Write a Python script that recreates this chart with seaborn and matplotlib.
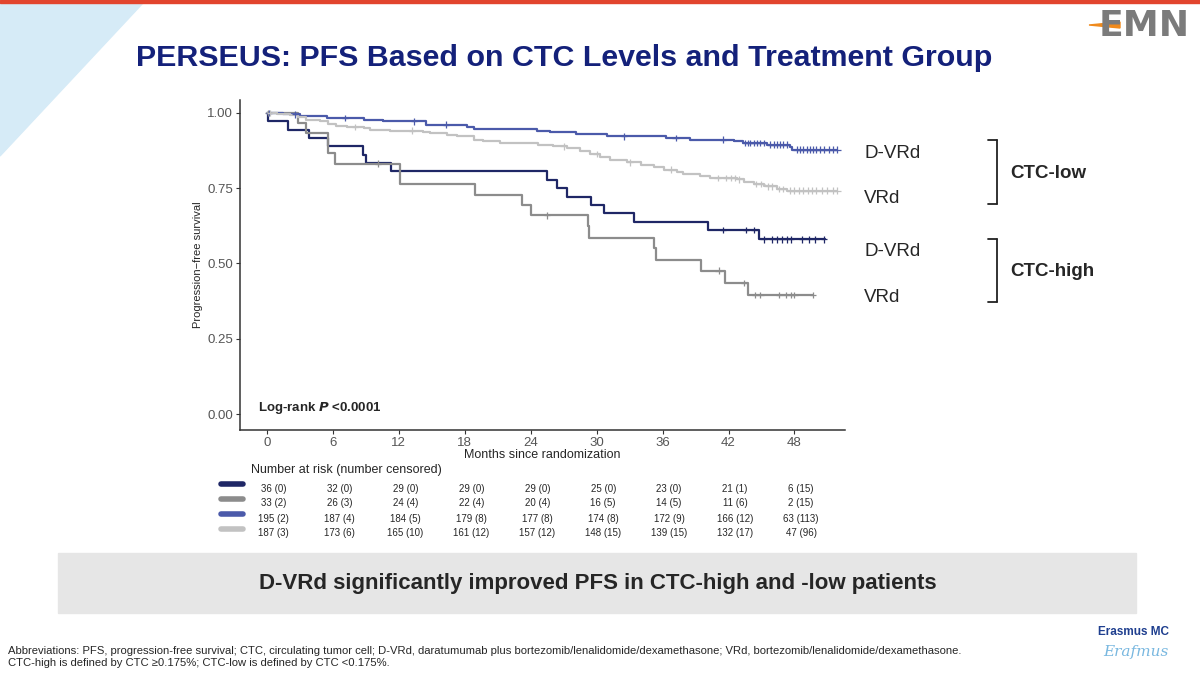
import numpy as np
import pandas as pd
import seaborn as sns
import matplotlib.pyplot as plt
from matplotlib.lines import Line2D
from matplotlib.patches import Polygon, Rectangle

# curves: step times (months) and survival after each step
groups = ['D-VRd CTC-high', 'VRd CTC-high', 'D-VRd CTC-low', 'VRd CTC-low']
colors = ['#1f2766', '#8c8c8c', '#4b5aaa', '#c2c2c2']

navy_t = [0.1, 1.9, 3.8, 5.6, 8.7, 9.0, 11.3, 25.5, 26.4, 27.3, 29.5, 30.7, 33.4, 40.1, 44.8]
navy_s = [0.972, 0.944, 0.917, 0.889, 0.861, 0.833, 0.806, 0.778, 0.750, 0.722, 0.694, 0.667, 0.639, 0.611, 0.580]
navy_end = 50.8
navy_cens = [41.5, 43.6, 44.3, 45.2, 46.0, 46.4, 46.9, 47.3, 47.7, 48.7, 49.3, 49.9, 50.7]

gray_t = [2.8, 3.6, 5.6, 6.2, 12.1, 18.9, 23.2, 24.0, 29.2, 29.3, 35.2, 35.4, 39.5, 41.7, 43.8]
gray_s = [0.968, 0.933, 0.867, 0.832, 0.764, 0.729, 0.695, 0.660, 0.623, 0.585, 0.550, 0.513, 0.476, 0.435, 0.396]
gray_end = 49.7
gray_cens = [0.1, 10.1, 25.5, 41.1, 43.4, 44.4, 44.9, 46.6, 47.2, 47.7, 48.0, 49.7]

blue_t = [1.5, 3.0, 5.5, 8.8, 10.6, 14.5, 18.2, 18.8, 24.6, 25.8, 28.1, 30.9, 36.3, 38.5, 42.5, 43.3, 45.5, 47.6, 47.8]
blue_s = [0.995, 0.990, 0.983, 0.978, 0.972, 0.961, 0.953, 0.947, 0.939, 0.936, 0.930, 0.922, 0.917, 0.911, 0.906, 0.900, 0.895, 0.887, 0.878]
blue_end = 51.9
blue_cens = [0.2, 2.6, 7.1, 13.4, 16.3, 32.5, 37.2, 41.5, 43.5, 43.8, 44.0, 44.3, 44.6, 44.9, 45.2,
             45.8, 46.1, 46.4, 46.7, 47.0, 47.3, 48.2, 48.5, 48.8, 49.1, 49.4, 49.7, 50.0, 50.3,
             50.7, 51.1, 51.5, 51.9]

lgray_t = [0.9, 2.1, 2.85, 3.6, 4.8, 5.6, 6.3, 7.25, 8.8, 9.4, 11.2, 14.2, 14.8, 16.4, 17.3, 18.8, 19.7,
           21.2, 24.7, 26.0, 27.3, 28.5, 29.4, 30.3, 31.2, 32.8, 34.0, 35.2, 36.1, 37.3, 37.9, 39.4,
           40.3, 42.8, 43.4, 44.3, 45.2, 46.4, 47.3]
lgray_s = [0.997, 0.992, 0.986, 0.978, 0.972, 0.963, 0.958, 0.953, 0.950, 0.945, 0.941, 0.937, 0.934,
           0.928, 0.922, 0.911, 0.906, 0.900, 0.895, 0.889, 0.884, 0.873, 0.864, 0.853, 0.845, 0.836,
           0.828, 0.820, 0.812, 0.804, 0.797, 0.790, 0.784, 0.779, 0.771, 0.764, 0.756, 0.747, 0.742]
lgray_end = 51.9
lgray_cens = [0.3, 8.0, 13.2, 27.0, 30.0, 33.0, 36.8, 41.0, 41.8, 42.2, 42.6, 43.0, 44.5, 45.0, 45.6,
              46.0, 46.6, 47.0, 47.6, 48.0, 48.4, 48.8, 49.2, 49.6, 50.0, 50.5, 51.0, 51.5, 51.9]

# number at risk table
risk_months = [0, 6, 12, 18, 24, 30, 36, 42, 48]
risk_navy = ['36 (0)', '32 (0)', '29 (0)', '29 (0)', '29 (0)', '25 (0)', '23 (0)', '21 (1)', '6 (15)']
risk_gray = ['33 (2)', '26 (3)', '24 (4)', '22 (4)', '20 (4)', '16 (5)', '14 (5)', '11 (6)', '2 (15)']
risk_blue = ['195 (2)', '187 (4)', '184 (5)', '179 (8)', '177 (8)', '174 (8)', '172 (9)', '166 (12)', '63 (113)']
risk_lgray = ['187 (3)', '173 (6)', '165 (10)', '161 (12)', '157 (12)', '148 (15)', '139 (15)', '132 (17)', '47 (96)']

curves = [(navy_t, navy_s, navy_end, navy_cens),
          (gray_t, gray_s, gray_end, gray_cens),
          (blue_t, blue_s, blue_end, blue_cens),
          (lgray_t, lgray_s, lgray_end, lgray_cens)]
risks = [risk_navy, risk_gray, risk_blue, risk_lgray]

rows, cens_rows = [], []
for g, (t, s, end, cens) in zip(groups, curves):
    tt = [0.0] + t + [end]
    ss = [1.0] + s + [s[-1]]
    for a, b in zip(tt, ss):
        rows.append({'month': a, 'surv': b, 'group': g})
    for c in cens:
        i = np.searchsorted(tt, c, side='right') - 1
        cens_rows.append({'month': c, 'surv': ss[i], 'group': g})
df = pd.DataFrame(rows)
df_cens = pd.DataFrame(cens_rows)
pal = dict(zip(groups, colors))

sns.set_style('ticks')
plt.rcParams['font.family'] = ['Liberation Sans', 'DejaVu Sans']

W, H = 1200, 678
fig = plt.figure(figsize=(12, 6.78), dpi=100)


def px(x, y):
    return x / W, 1 - y / H


# slide decorations
fig.patches.append(Polygon([px(0, 3), px(143, 3), px(0, 156)], closed=True,
                           transform=fig.transFigure, color='#d6ebf7', zorder=0))
fig.patches.append(Rectangle(px(0, 3), 1, 3 / H, transform=fig.transFigure,
                             color='#e2452e', zorder=1))
fig.text(*px(1144, 26), 'EMN', fontsize=26, color='#7b7b7b', ha='center', va='center',
         fontweight='bold', family='DejaVu Sans')
fig.patches.append(Polygon([px(1089, 25), px(1120, 22), px(1120, 28)], closed=True,
                           transform=fig.transFigure, color='#f08a1c', zorder=3))

fig.text(*px(564, 58), 'PERSEUS: PFS Based on CTC Levels and Treatment Group',
         fontweight='bold', fontsize=21.9, color='#14217a', ha='center', va='center')

# main KM axes
l, b = px(240, 430)
ax = fig.add_axes([l, b, 605 / W, 330 / H])
sns.lineplot(data=df, x='month', y='surv', hue='group', palette=pal, estimator=None,
             sort=False, drawstyle='steps-post', linewidth=1.6, legend=False, ax=ax)
sns.scatterplot(data=df_cens, x='month', y='surv', hue='group', palette=pal, marker='+',
                s=22, linewidth=0.9, legend=False, ax=ax, zorder=3)
ax.set_xlim(-2.45, 52.6)
ax.set_ylim(-0.053, 1.043)
ax.set_xticks(risk_months)
ax.set_yticks([0, 0.25, 0.5, 0.75, 1.0])
ax.set_yticklabels(['0.00', '0.25', '0.50', '0.75', '1.00'])
ax.tick_params(labelsize=9.5, colors='#333333', labelcolor='#555555', length=3, width=0.8, pad=2)
for sp in ['top', 'right']:
    ax.spines[sp].set_visible(False)
for sp in ['left', 'bottom']:
    ax.spines[sp].set_color('#333333')
    ax.spines[sp].set_linewidth(1.1)
ax.set_xlabel('Months since randomization', fontsize=9, labelpad=0)
ax.set_ylabel('Progression\u2212free survival', fontsize=8, labelpad=3)
ax.text(-0.85, 0.02, 'Log-rank $\\bfit{P}$ <0.0001', fontsize=9.5, fontweight='bold',
        ha='left', va='center')

# right-hand labels and brackets
for y, lab in [(158, 'D-VRd'), (203, 'VRd'), (256, 'D-VRd'), (302, 'VRd')]:
    fig.text(*px(864, y), lab, fontsize=13.5, va='baseline', ha='left')
for y0, y1, lab in [(140, 204, 'CTC-low'), (239, 302, 'CTC-high')]:
    fig.add_artist(Line2D([997 / W, 997 / W], [1 - y0 / H, 1 - y1 / H], color='#222222', lw=1.3))
    for yy in (y0, y1):
        fig.add_artist(Line2D([988 / W, 997 / W], [1 - yy / H, 1 - yy / H], color='#222222', lw=1.3))
    fig.text(*px(1010, (y0 + y1) / 2 + 1), lab, fontsize=13.5, fontweight='bold', va='center')

# number at risk table
fig.text(*px(251, 470), 'Number at risk (number censored)', fontsize=9, va='center')
axt = fig.add_axes([l, 1 - 541 / H, 605 / W, 60 / H])
axt.set_xlim(ax.get_xlim())
axt.set_ylim(4.5, 0.5)
axt.axis('off')
for r, (lab_row, c) in enumerate(zip(risks, colors), start=1):
    for m, txt in zip(risk_months, lab_row):
        axt.text(m + 0.6, r, txt, fontsize=7, ha='center', va='center')
    axt.add_line(Line2D([-4.2, -2.2], [r - 0.33, r - 0.33], color=c, lw=4, clip_on=False))

# banner
fig.patches.append(Rectangle(px(58, 613), 1078 / W, 60 / H, transform=fig.transFigure,
                             color='#e6e6e6', zorder=0))
fig.text(*px(598, 583), 'D-VRd significantly improved PFS in CTC-high and -low patients',
         fontweight='bold', fontsize=16, ha='center', va='center')

# footer
foot = ('Abbreviations: PFS, progression-free survival; CTC, circulating tumor cell; D-VRd, daratumumab plus '
        'bortezomib/lenalidomide/dexamethasone; VRd, bortezomib/lenalidomide/dexamethasone.\n'
        'CTC-high is defined by CTC \u22650.175%; CTC-low is defined by CTC <0.175%.')
fig.text(*px(8, 657), foot, fontsize=8.1, va='center', linespacing=1.25)
fig.text(*px(1134, 632), 'Erasmus MC', fontsize=8.5, fontweight='bold', color='#1f3f8f',
         ha='center', va='center')
fig.text(*px(1136, 652), 'Erafmus', fontsize=11, style='italic', color='#79b8e0',
         ha='center', va='center', family='DejaVu Serif')

fig.savefig('out.png', dpi=100)
